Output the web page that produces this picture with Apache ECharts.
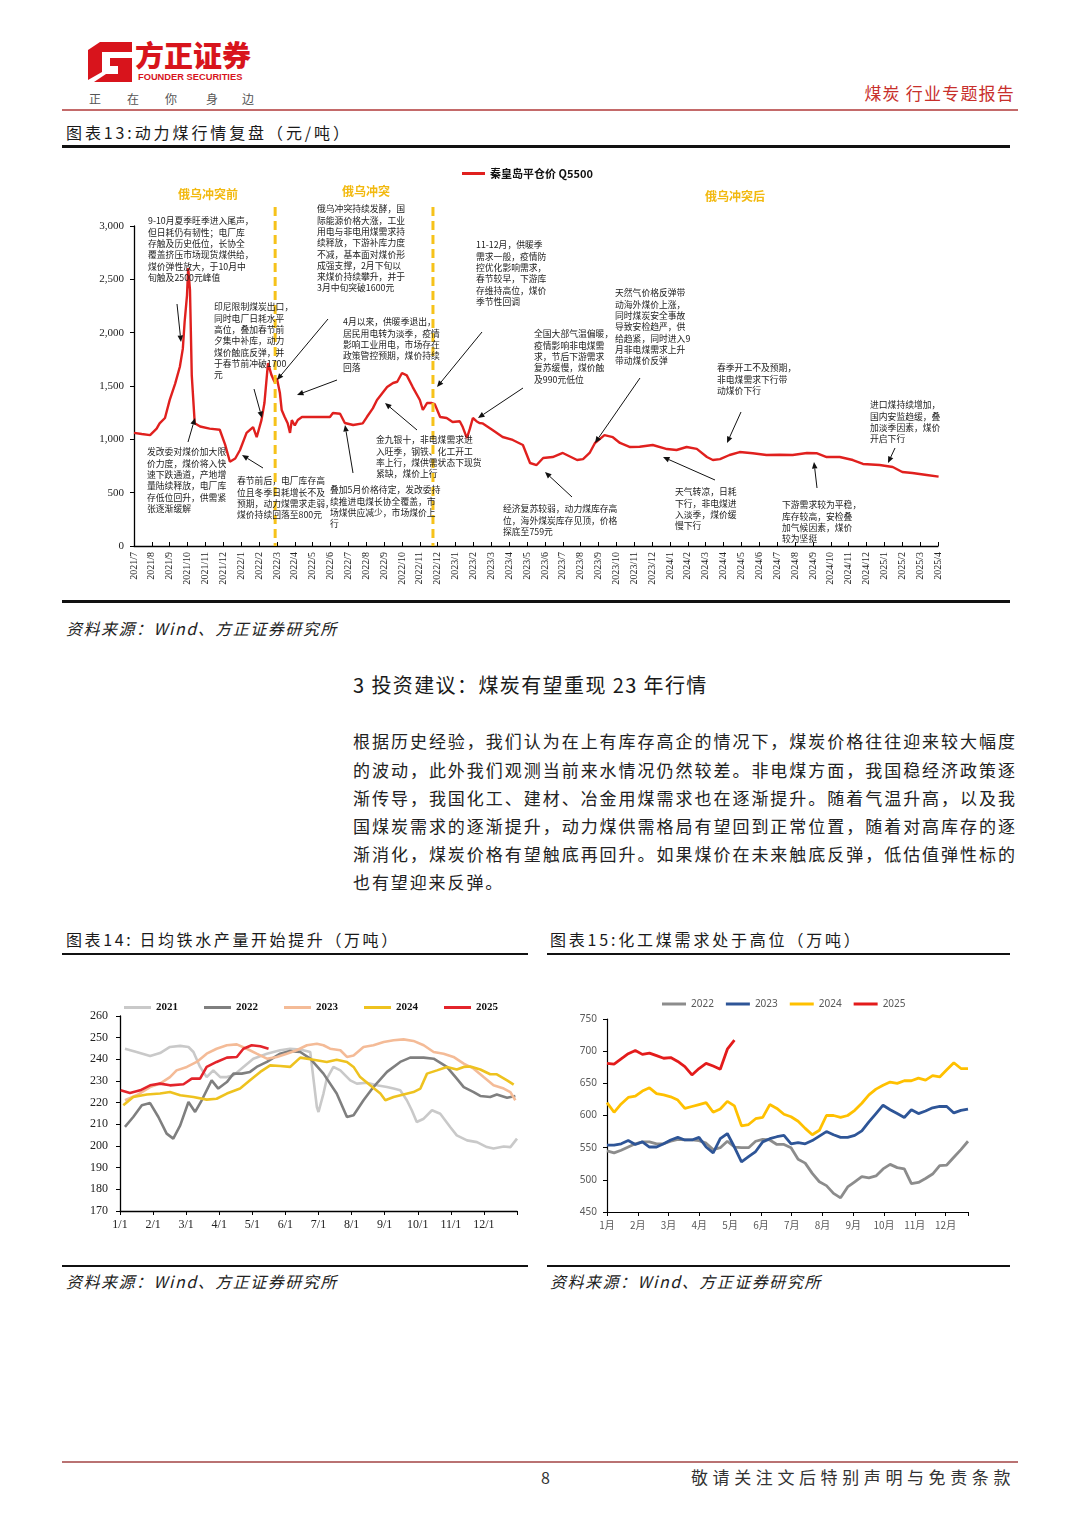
<!DOCTYPE html>
<html><head><meta charset="utf-8">
<script src="https://cdn.jsdelivr.net/npm/echarts@6/dist/echarts.min.js"></script>
<style>
body{margin:0;background:#fff;width:1080px;height:1527px;position:relative;overflow:hidden;font-family:"Noto Sans CJK SC","Noto Sans",sans-serif;color:#222;}
.abs{position:absolute;white-space:nowrap;line-height:1;}
.chart{position:absolute;left:0;top:0;width:1080px;height:1527px;}
.rule{position:absolute;background:#111;}
.title{font-size:16px;letter-spacing:2.9px;color:#1a1a1a;}
.src{font-size:16px;font-style:italic;letter-spacing:1.5px;color:#222;}
.para{position:absolute;left:353px;width:662px;font-size:17px;line-height:1;text-align:justify;text-align-last:justify;color:#222;white-space:nowrap;}
</style></head><body>

<svg style="position:absolute;left:86px;top:40px" width="48" height="44" viewBox="0 0 48 44">
 <path d="M2 10 L14 2 L46 2 L46 12 L16 12 L16 32 L2 40 Z" fill="#D8141C"/>
 <path d="M24 18 L46 18 L46 42 L8 42 L20 34 L32 34 L32 26 L24 26 Z" fill="#D8141C"/>
</svg>
<div class="abs" style="left:135px;top:40px;font-size:29px;font-weight:900;color:#D8141C;">方正证券</div>
<div class="abs" style="left:138px;top:72px;font:bold 9.3px 'Liberation Sans',sans-serif;color:#D8141C;">FOUNDER SECURITIES</div>
<div class="abs" style="left:89px;top:93px;font-size:12px;color:#555;">正</div>
<div class="abs" style="left:127px;top:93px;font-size:12px;color:#555;">在</div>
<div class="abs" style="left:165px;top:93px;font-size:12px;color:#555;">你</div>
<div class="abs" style="left:206px;top:93px;font-size:12px;color:#555;">身</div>
<div class="abs" style="left:242px;top:93px;font-size:12px;color:#555;">边</div>
<div class="abs" style="right:65px;top:84px;font-size:17px;color:#C8302C;letter-spacing:1.2px;">煤炭 行业专题报告</div>
<div class="rule" style="left:62px;top:109px;width:956px;height:2px;background:#C46A6A;"></div>

<div class="abs title" style="left:66px;top:124px;">图表13:动力煤行情复盘（元/吨）</div>
<div class="rule" style="left:62px;top:145px;width:948px;height:3px;"></div>
<div class="rule" style="left:62px;top:600px;width:948px;height:3px;"></div>
<div class="abs src" style="left:66px;top:620px;">资料来源：Wind、方正证券研究所</div>

<div class="abs" style="left:353px;top:675px;font-size:20px;letter-spacing:1.4px;color:#1a1a1a;">3 投资建议：煤炭有望重现 23 年行情</div>
<div class="para" style="top:732px;">根据历史经验，我们认为在上有库存高企的情况下，煤炭价格往往迎来较大幅度</div>
<div class="para" style="top:761px;">的波动，此外我们观测当前来水情况仍然较差。非电煤方面，我国稳经济政策逐</div>
<div class="para" style="top:789px;">渐传导，我国化工、建材、冶金用煤需求也在逐渐提升。随着气温升高，以及我</div>
<div class="para" style="top:817px;">国煤炭需求的逐渐提升，动力煤供需格局有望回到正常位置，随着对高库存的逐</div>
<div class="para" style="top:845px;">渐消化，煤炭价格有望触底再回升。如果煤价在未来触底反弹，低估值弹性标的</div>
<div class="para" style="top:873px;text-align-last:left;letter-spacing:1.9px;">也有望迎来反弹。</div>

<div class="abs title" style="left:66px;top:931px;letter-spacing:2.6px;">图表14: 日均铁水产量开始提升（万吨）</div>
<div class="rule" style="left:62px;top:953px;width:466px;height:2px;"></div>
<div class="rule" style="left:62px;top:1265px;width:466px;height:2px;"></div>
<div class="abs src" style="left:66px;top:1273px;">资料来源：Wind、方正证券研究所</div>

<div class="abs title" style="left:550px;top:931px;letter-spacing:2.8px;">图表15:化工煤需求处于高位（万吨）</div>
<div class="rule" style="left:547px;top:953px;width:463px;height:2px;"></div>
<div class="rule" style="left:547px;top:1265px;width:463px;height:2px;"></div>
<div class="abs src" style="left:550px;top:1273px;">资料来源：Wind、方正证券研究所</div>

<div class="rule" style="left:62px;top:1461px;width:956px;height:2px;background:#B97272;"></div>
<div class="abs" style="left:541px;top:1469px;font-size:16px;color:#333;">8</div>
<div class="abs" style="right:65px;top:1468px;font-size:17px;letter-spacing:4.6px;color:#333;">敬请关注文后特别声明与免责条款</div>

<div id="c13" class="chart"></div>
<div id="c14" class="chart"></div>
<div id="c15" class="chart"></div>

<script>
// ---------- Chart 13 data: 秦皇岛平仓价 Q5500 (元/吨) ----------
const priceDates = ['2021-07-01','2021-07-14','2021-07-28','2021-08-09','2021-08-14','2021-08-23','2021-09-01','2021-09-10','2021-09-18','2021-09-23','2021-09-26','2021-09-30','2021-10-02','2021-10-05','2021-10-08','2021-10-13','2021-10-22','2021-11-08','2021-11-25','2021-12-04','2021-12-12','2021-12-21','2021-12-29','2022-01-10','2022-01-21','2022-01-27','2022-02-05','2022-02-10','2022-02-16','2022-02-22','2022-02-27','2022-03-01','2022-03-06','2022-03-09','2022-03-14','2022-03-19','2022-03-23','2022-03-26','2022-04-01','2022-04-06','2022-04-13','2022-05-30','2022-06-05','2022-06-17','2022-06-25','2022-07-09','2022-07-25','2022-08-02','2022-08-12','2022-08-19','2022-09-06','2022-09-16','2022-09-23','2022-10-01','2022-10-09','2022-10-19','2022-11-01','2022-11-06','2022-11-13','2022-11-21','2022-11-26','2022-12-05','2022-12-16','2022-12-26','2023-01-08','2023-01-13','2023-01-20','2023-01-25','2023-01-30','2023-02-06','2023-02-11','2023-02-16','2023-03-03','2023-03-20','2023-04-07','2023-04-24','2023-05-06','2023-05-17','2023-05-28','2023-06-14','2023-07-01','2023-07-25','2023-08-05','2023-08-16','2023-08-25','2023-09-11','2023-09-25','2023-10-07','2023-10-24','2023-11-10','2023-12-02','2023-12-26','2024-01-12','2024-01-29','2024-02-16','2024-03-03','2024-03-13','2024-03-25','2024-04-11','2024-04-28','2024-05-20','2024-06-13','2024-07-05','2024-07-27','2024-08-21','2024-09-07','2024-09-24','2024-10-16','2024-11-08','2024-11-25','2024-12-23','2025-01-15','2025-02-01','2025-02-18','2025-03-12','2025-04-02'];
const priceValues = [1060,1050,1040,1100,1150,1200,1370,1520,1680,1850,2100,2350,2606,2400,1600,1150,1120,1100,1090,950,790,820,900,1060,1115,1020,1180,1340,1715,1600,1537,1570,1434,1275,1209,1150,1060,1180,1130,1181,1209,1209,1247,1240,1153,1134,1150,1209,1290,1369,1490,1528,1540,1622,1600,1490,1369,1275,1340,1340,1330,1209,1200,1162,1170,1115,1012,1100,1200,1170,1153,1150,1087,1022,994,947,778,759,825,834,872,806,815,872,966,1040,1020,966,928,930,947,909,900,928,910,834,806,815,853,881,870,853,855,853,872,870,834,834,806,769,759,741,694,684,666,650];
const conflictDates = ['2022-02-28','2022-11-23'];
const periodLabels = ['俄乌冲突前','俄乌冲突','俄乌冲突后'];
const mainSeriesName = '秦皇岛平仓价 Q5500';

// ---------- Chart 14 data: 日均铁水产量 (万吨), x = month fraction from 1/1 ----------
const x2021 = [0.15,0.50,0.91,1.21,1.51,1.82,2.07,2.22,2.42,2.62,2.82,3.03,3.23,3.43,3.73,4.03,4.44,4.84,5.14,5.45,5.75,5.95,6.00,6.15,6.25,6.45,6.66,6.96,7.16,7.46,7.76,8.07,8.27,8.47,8.67,8.82,8.97,9.18,9.43,9.68,9.98,10.18,10.49,10.79,11.09,11.29,11.60,11.80,12.00];
const v2021 = [244.9,243.4,241.5,242.9,245.7,246.2,245.7,243.4,236.5,231.8,234.9,231.8,231.8,232.6,236.5,240.3,242.6,244.2,244.9,244.5,243.4,218.0,215.7,224.2,231.0,236.5,234.9,230.3,228.8,229.2,228.0,227.2,226.5,225.7,221.1,216.5,211.1,212.6,216.5,214.9,208.8,204.9,202.6,201.8,199.5,198.8,199.8,199.5,203.4];
const x2022 = [0.15,0.40,0.66,0.91,1.16,1.41,1.61,1.82,2.07,2.27,2.47,2.77,2.97,3.23,3.43,3.68,3.93,4.13,4.44,4.84,5.14,5.45,5.75,6.15,6.55,6.86,7.06,7.36,7.66,8.07,8.47,8.77,9.18,9.48,9.88,10.18,10.39,10.69,10.89,11.19,11.39,11.70,11.95];
const v2022 = [208.8,213.4,218.8,219.8,213.4,205.7,203.4,209.5,220.3,215.7,221.1,230.3,226.5,229.5,233.4,233.4,234.2,236.5,238.8,242.6,243.8,243.4,240.3,233.4,224.2,213.4,214.2,221.1,227.2,234.2,238.8,240.8,240.8,240.3,236.5,231.1,227.2,224.9,223.1,222.6,223.8,222.3,223.1];
const x2023 = [0.15,0.50,0.91,1.21,1.51,1.71,2.02,2.32,2.62,2.92,3.23,3.53,3.83,4.13,4.44,4.74,5.04,5.34,5.65,5.95,6.15,6.35,6.66,6.86,7.06,7.36,7.66,7.97,8.27,8.57,8.87,9.18,9.48,9.78,10.08,10.39,10.69,10.99,11.29,11.60,11.80,11.95];
const v2023 = [221.1,223.4,227.2,228.8,231.8,234.9,236.5,238.8,242.6,244.9,246.5,246.9,244.9,242.6,240.3,241.1,242.6,244.2,246.5,247.2,246.5,244.9,244.2,241.1,241.8,245.7,246.5,248.0,248.8,249.2,248.5,246.5,243.4,242.6,241.1,238.0,235.7,231.8,228.0,226.5,224.9,221.1];
const x2024 = [0.10,0.40,0.81,1.21,1.51,1.82,2.22,2.62,2.92,3.23,3.63,3.93,4.24,4.54,4.84,5.14,5.45,5.85,6.25,6.55,6.86,7.06,7.26,7.56,7.87,8.02,8.27,8.57,8.87,9.08,9.28,9.58,9.88,10.18,10.39,10.59,10.89,11.19,11.39,11.70,11.90];
const v2024 = [218.8,222.6,223.8,224.2,224.9,223.4,222.6,221.4,221.8,224.2,226.5,230.3,234.2,237.2,236.9,236.5,240.8,239.8,238.8,239.8,238.8,236.5,231.8,228.0,224.2,221.1,222.6,223.8,224.9,226.5,233.4,234.9,236.5,235.3,236.5,236.7,235.3,233.1,233.1,230.3,228.3];
const x2025 = [0.02,0.30,0.61,0.91,1.21,1.51,1.92,2.17,2.42,2.62,2.92,3.23,3.53,3.73,3.98,4.24,4.49];
const v2025 = [225.7,224.5,225.7,228.0,228.8,228.0,228.5,231.1,231.1,236.5,238.8,240.8,241.1,244.9,246.5,246.0,244.9];
const ironYears = ['2021','2022','2023','2024','2025'];
const ironMonthLabels = ['1/1','2/1','3/1','4/1','5/1','6/1','7/1','8/1','9/1','10/1','11/1','12/1'];

// ---------- Chart 15 data: 化工煤需求 (万吨), weekly ----------
const c2022 = [545,542,546,551,556,559,559,556,556,560,563,562,562,561,557,547,550,560,551,550,550,560,563,562,555,555,550,532,526,510,497,491,479,472,489,497,505,503,506,517,524,519,517,494,496,502,509,522,523,535,547,560];
const c2023 = [554,554,556,561,555,559,551,551,556,562,566,562,562,566,551,542,564,572,551,528,536,544,559,564,567,569,556,558,556,561,568,575,570,566,566,569,576,590,603,616,609,603,597,609,603,607,612,614,614,604,608,610];
const c2024 = [620,605,618,628,630,638,643,634,632,629,624,611,614,617,620,605,610,622,615,584,586,595,597,617,611,602,598,591,580,570,577,600,600,597,600,608,619,632,641,647,652,650,654,654,658,655,662,660,671,682,673,673];
const c2025 = [681,680,688,696,701,695,697,693,689,690,684,676,663,673,681,677,672,703,717];
const chemYears = ['2022','2023','2024','2025'];
const chemMonthLabels = ['1月','2月','3月','4月','5月','6月','7月','8月','9月','10月','11月','12月'];

// ---------- annotations (text blocks for chart 13) ----------
const notes = [
 {x:148,y:221,t:['9-10月夏季旺季进入尾声，','但日耗仍有韧性；电厂库','存触及历史低位，长协全','覆盖挤压市场现货煤供给，','煤价弹性放大，于10月中','旬触及2500元峰值'],a:[177,304,181,342]},
 {x:214,y:307,t:['印尼限制煤炭出口，','同时电厂日耗水平','高位，叠加春节前','夕集中补库，动力','煤价触底反弹，并','于春节前冲破1700','元'],a:[254,389,262,418]},
 {x:317,y:209,t:['俄乌冲突持续发酵，国','际能源价格大涨，工业','用电与非电用煤需求持','续释放，下游补库力度','不减，基本面对煤价形','成强支撑，2月下旬以','来煤价持续攀升，并于','3月中旬突破1600元'],a:[328,319,277,380]},
 {x:343,y:322,t:['4月以来，供暖季退出，','居民用电转为淡季，疫情','影响工业用电，市场存在','政策管控预期，煤价持续','回落'],a:[337,380,297,395]},
 {x:476,y:245,t:['11-12月，供暖季','需求一般，疫情防','控优化影响需求，','春节较早，下游库','存维持高位，煤价','季节性回调'],a:[482,332,437,387]},
 {x:534,y:334,t:['全国大部气温偏暖，','疫情影响非电煤需','求，节后下游需求','复苏缓慢，煤价触','及990元低位'],a:[523,388,478,418]},
 {x:615,y:293,t:['天然气价格反弹带','动海外煤价上涨，','同时煤炭安全事故','导致安检趋严，供','给趋紧，同时进入9','月非电煤需求上升','带动煤价反弹'],a:[640,378,595,443]},
 {x:717,y:368,t:['春季开工不及预期，','非电煤需求下行带','动煤价下行'],a:[741,412,727,443]},
 {x:870,y:405,t:['进口煤持续增加，','国内安监趋缓，叠','加淡季因素，煤价','开启下行'],a:[895,448,888,463]},
 {x:147,y:452,t:['发改委对煤价加大限','价力度，煤价将入快','速下跌通道，产地增','量陆续释放，电厂库','存低位回升，供需紧','张逐渐缓解'],a:[188,442,195,418]},
 {x:237,y:481,t:['春节前后，电厂库存高','位且冬季日耗增长不及','预期，动力煤需求走弱，','煤价持续回落至800元'],a:[263,468,242,455]},
 {x:330,y:490,t:['叠加5月价格待定，发改委持','续推进电煤长协全覆盖，市','场煤供应减少，市场煤价上','行'],a:[353,473,345,425]},
 {x:376,y:440,t:['金九银十，非电煤需求进','入旺季，钢铁、化工开工','率上行，煤供需状态下现货','紧缺，煤价上行'],a:[417,430,385,403]},
 {x:503,y:509,t:['经济复苏较弱，动力煤库存高','位，海外煤炭库存见顶，价格','探底至759元'],a:[572,497,545,472]},
 {x:675,y:492,t:['天气转凉，日耗','下行，非电煤进','入淡季，煤价缓','慢下行'],a:[715,480,663,457]},
 {x:782,y:505,t:['下游需求较为平稳，','库存较高，安检叠','加气候因素，煤价','较为坚挺'],a:[817,488,814,462]}
];
const periodPos = [[208,194],[366,191],[735,196]];

const monthIdx = s => { const p = s.split('-').map(Number); return (p[0]-2021)*12 + (p[1]-7) + (p[2]-1)/30; };
const mainData = priceDates.map((d,i)=>[monthIdx(d), priceValues[i]]);

const serif = '"Liberation Serif","DejaVu Serif",serif';
const cjk = '"Noto Sans CJK SC","Noto Sans",sans-serif';

// ----- chart 13 -----
const c13 = echarts.init(document.getElementById('c13'), null, {renderer:'canvas'});
c13.setOption({
 animation:false,
 legend:{data:[mainSeriesName], left:457, top:163, padding:5, icon:'rect', itemWidth:23, itemHeight:3,
   textStyle:{fontFamily:cjk, fontWeight:'bold', fontSize:11, color:'#111'}},
 grid:{left:134, top:226, width:804, height:320, containLabel:false},
 xAxis:{type:'value', min:0, max:45, interval:1,
   axisLine:{show:true, lineStyle:{color:'#000', width:1.3}},
   axisTick:{show:true, inside:true, length:4, lineStyle:{color:'#000'}},
   splitLine:{show:false},
   axisLabel:{rotate:90, margin:6, fontFamily:serif, fontSize:10, color:'#222',
     formatter:v=>{ if(v%1!==0) return ''; const t=v+6; return (2021+Math.floor(t/12))+'/'+(t%12+1);} }},
 yAxis:{type:'value', min:0, max:3000, interval:500,
   axisLine:{show:true, lineStyle:{color:'#000', width:1.3}},
   axisTick:{show:true, length:4, lineStyle:{color:'#000'}},
   splitLine:{show:false},
   axisLabel:{margin:10, fontFamily:serif, fontSize:11, color:'#222', formatter:v=>v.toLocaleString('en-US')}},
 series:[{name:mainSeriesName, type:'line', data:mainData, showSymbol:false, symbol:'none',
   lineStyle:{color:'#E0201E', width:2.4}, itemStyle:{color:'#E0201E'}}]
});

function arrowEls(a){
 const [x1,y1,x2,y2]=a; const ang=Math.atan2(y2-y1,x2-x1); const L=6.5, W=2.8;
 const c=Math.cos(ang), s=Math.sin(ang); const bx=x2-L*c, by=y2-L*s;
 return [
  {type:'line', z:100, shape:{x1,y1,x2:bx,y2:by}, style:{stroke:'#111', lineWidth:1}},
  {type:'polygon', z:100, shape:{points:[[x2,y2],[bx+W*s,by-W*c],[bx-W*s,by+W*c]]}, style:{fill:'#111'}}
 ];
}
const g = [];
conflictDates.forEach(d=>{
 const px = c13.convertToPixel({gridIndex:0},[monthIdx(d),0]);
 g.push({type:'line', z:50, shape:{x1:px[0],y1:207,x2:px[0],y2:px[1]}, style:{stroke:'#F6C21A', lineWidth:3, lineDash:[9,5]}});
});
periodLabels.forEach((t,i)=>{
 g.push({type:'text', z:100, x:periodPos[i][0], y:periodPos[i][1], style:{text:t, font:'bold 12px '+cjk, fill:'#F2B90F', align:'center', verticalAlign:'middle'}});
});
notes.forEach(n=>{
 g.push({type:'text', z:100, x:n.x, y:n.y-5.7, style:{text:n.t.join('\n'), font:'8.8px '+cjk, fill:'#222', lineHeight:11.3, align:'left', verticalAlign:'top'}});
 arrowEls(n.a).forEach(e=>g.push(e));
});
c13.setOption({graphic:g});

// ----- chart 14 -----
const ironColors = ['#C9C9C9','#7F7F7F','#F4BB97','#EEC21F','#E3242B'];
const ironX = [x2021,x2022,x2023,x2024,x2025], ironV=[v2021,v2022,v2023,v2024,v2025];
const c14 = echarts.init(document.getElementById('c14'));
c14.setOption({
 animation:false,
 legend:{data:ironYears, left:119, top:997, icon:'rect', itemWidth:27, itemHeight:3, itemGap:26,
   textStyle:{fontFamily:serif, fontWeight:'bold', fontSize:11, color:'#111'}},
 grid:{left:120, top:1016, width:397, height:195},
 xAxis:{type:'value', min:0, max:12, interval:1,
   axisLine:{show:true, lineStyle:{color:'#000', width:1.3}},
   axisTick:{show:true, length:4, lineStyle:{color:'#000'}}, splitLine:{show:false},
   axisLabel:{margin:8, fontFamily:serif, fontSize:12, color:'#222',
     formatter:v=> (v%1===0 && v<12) ? ironMonthLabels[v] : ''}},
 yAxis:{type:'value', min:170, max:260, interval:10,
   axisLine:{show:true, lineStyle:{color:'#000', width:1.3}},
   axisTick:{show:true, length:4, lineStyle:{color:'#000'}}, splitLine:{show:false},
   axisLabel:{margin:12, fontFamily:serif, fontSize:12, color:'#222'}},
 series: ironYears.map((y,i)=>({name:y, type:'line', showSymbol:false, symbol:'none',
   data: ironX[i].map((x,j)=>[x, ironV[i][j]]),
   lineStyle:{color:ironColors[i], width:2.6}, itemStyle:{color:ironColors[i]}, z:2+i}))
});

// ----- chart 15 -----
const chemColors = ['#8C8C8C','#2E5597','#FFC000','#E31B1B'];
const chemV = [c2022,c2023,c2024,c2025];
const wk = i => i*7/30.44;
const c15 = echarts.init(document.getElementById('c15'));
c15.setOption({
 animation:false,
 legend:{data:chemYears, left:657, top:994, icon:'rect', itemWidth:24, itemHeight:3, itemGap:12,
   textStyle:{fontFamily:'"Noto Sans",sans-serif', fontSize:10, color:'#595959'}},
 grid:{left:607, top:1019, width:361, height:193},
 xAxis:{type:'value', min:0, max:wk(51), interval:1,
   axisLine:{show:true, lineStyle:{color:'#000', width:1.2}},
   axisTick:{show:true, length:4, lineStyle:{color:'#000'}}, splitLine:{show:false},
   axisLabel:{margin:8, fontFamily:cjk, fontSize:10, color:'#595959',
     formatter:v=> (Math.abs(v-Math.round(v))<1e-6 && v<12) ? chemMonthLabels[Math.round(v)] : ''}},
 yAxis:{type:'value', min:450, max:750, interval:50,
   axisLine:{show:true, lineStyle:{color:'#000', width:1.2}},
   axisTick:{show:true, length:4, lineStyle:{color:'#000'}}, splitLine:{show:false},
   axisLabel:{margin:10, fontFamily:'"Noto Sans",sans-serif', fontSize:10, color:'#595959'}},
 series: chemYears.map((y,i)=>({name:y, type:'line', showSymbol:false, symbol:'none',
   data: chemV[i].map((v,j)=>[wk(j), v]),
   lineStyle:{color:chemColors[i], width:2.8}, itemStyle:{color:chemColors[i]}}))
});
</script>
</body></html>
